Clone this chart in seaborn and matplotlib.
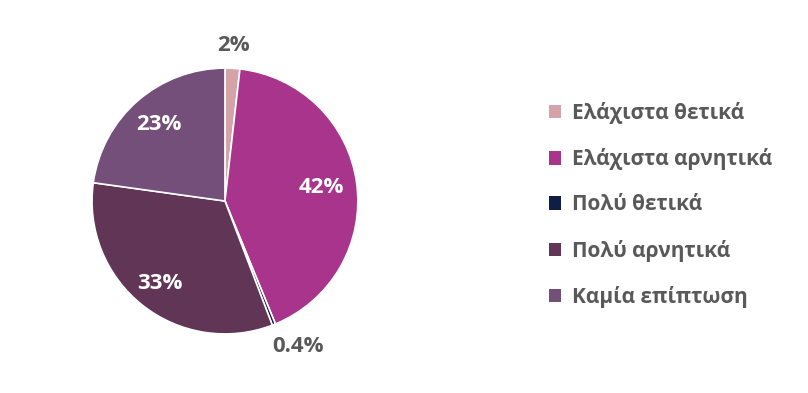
import numpy as np
import matplotlib
matplotlib.use("Agg")
import matplotlib.pyplot as plt
from matplotlib.patches import Patch
import seaborn as sns

# data
categories = ["Ελάχιστα θετικά", "Ελάχιστα αρνητικά", "Πολύ θετικά", "Πολύ αρνητικά", "Καμία επίπτωση"]
values = [1.8, 42.0, 0.4, 33.0, 22.8]
pct_labels = ["2%", "42%", "0.4%", "33%", "23%"]
colors = ["#D4A3A7", "#A8358B", "#0E1E45", "#613556", "#734F7A"]

sns.set_theme(style="white")
plt.rcParams["font.family"] = ["Open Sans", "DejaVu Sans"]
text_col = "#595959"

fig = plt.figure(figsize=(8.08, 3.93), dpi=100)
ax = fig.add_axes([0.1139, 0.150, 0.329, 0.677])

wedges, _ = ax.pie(values, colors=colors, startangle=90, counterclock=False,
                   wedgeprops=dict(edgecolor="white", linewidth=1.2))
ax.set_xlim(-1, 1)
ax.set_ylim(-1, 1)
ax.set_aspect("equal")
ax.axis("off")

# label placement (radius, angle shift, colour) per slice
label_r = [1.17, 0.73, 1.22, 0.79, 0.76]
label_shift = [0, 0, 5, 0, 0]
label_c = [text_col, "white", text_col, "white", "white"]
for w, lab, r, s, c in zip(wedges, pct_labels, label_r, label_shift, label_c):
    ang = np.deg2rad((w.theta1 + w.theta2) / 2 + s)
    ax.text(r * np.cos(ang), r * np.sin(ang), lab, ha="center", va="center",
            fontsize=16, fontweight="bold", color=c, clip_on=False)

handles = [Patch(facecolor=c, edgecolor="none") for c in colors]
leg = fig.legend(handles, categories, loc="upper left", bbox_to_anchor=(0.656, 0.788),
                 frameon=False, fontsize=15, handlelength=0.6, handleheight=0.6,
                 handletextpad=0.5, labelspacing=1.16)
for t in leg.get_texts():
    t.set_color(text_col)
    t.set_fontweight("bold")

fig.savefig("out.png", dpi=100, facecolor="white")
